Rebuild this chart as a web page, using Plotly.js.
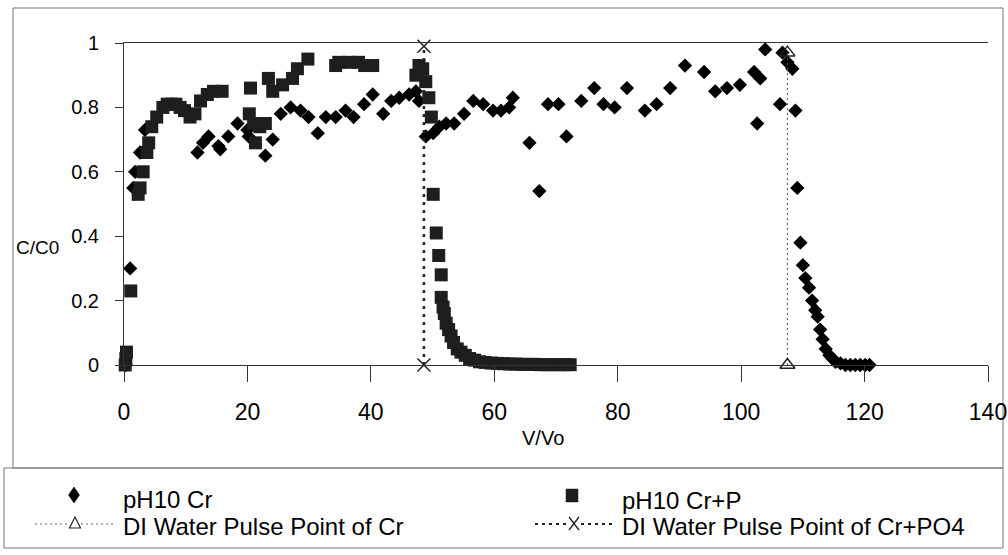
<!DOCTYPE html>
<html>
<head>
<meta charset="utf-8">
<script src="https://cdn.plot.ly/plotly-3.0.1.min.js"></script>
<style>html,body{margin:0;padding:0;background:#fff;}#chart{width:1008px;height:555px;}</style>
</head>
<body>
<div id="chart"></div>
<script>
// pH10 Cr (diamonds)
const crX = [0.3, 1.0, 1.5, 1.8, 2.6, 3.4,
  11.9, 12.8, 13.7, 15.3, 15.6, 16.9, 18.4, 20.0, 20.2, 22.9, 24.1, 25.4, 27.0, 28.6, 29.9,
  31.4, 32.7, 34.3, 35.9, 37.2, 38.9, 40.3, 42.0, 43.3, 44.6, 46.2, 47.3, 47.8, 48.9,
  50.1, 51.1, 52.2, 53.5, 55.1, 56.6, 58.2, 59.8, 61.1, 62.4, 63.0, 65.7, 67.3, 68.7,
  70.4, 71.7, 74.1, 76.2, 77.7, 79.5, 81.5, 84.4, 86.3, 88.5, 90.9, 94.0, 95.8, 97.7,
  99.8, 102.1, 102.6, 103.1, 103.9, 106.3, 106.7, 107.5, 108.3, 108.8, 109.1, 109.6,
  110.0, 110.4, 111.0, 111.5, 112.0, 112.4, 112.8, 113.2, 113.7, 114.3, 114.8, 115.3,
  116.1, 116.9, 117.7, 118.5, 119.3, 120.1, 120.8];
const crY = [0.00, 0.30, 0.55, 0.60, 0.66, 0.73,
  0.66, 0.69, 0.71, 0.68, 0.67, 0.71, 0.75, 0.73, 0.71, 0.65, 0.70, 0.78, 0.80, 0.79, 0.77,
  0.72, 0.77, 0.77, 0.79, 0.77, 0.81, 0.84, 0.78, 0.82, 0.83, 0.84, 0.85, 0.82, 0.71,
  0.72, 0.74, 0.75, 0.75, 0.78, 0.82, 0.81, 0.79, 0.79, 0.80, 0.83, 0.69, 0.54, 0.81,
  0.81, 0.71, 0.82, 0.86, 0.81, 0.80, 0.86, 0.79, 0.81, 0.86, 0.93, 0.91, 0.85, 0.86,
  0.87, 0.91, 0.75, 0.89, 0.98, 0.81, 0.97, 0.94, 0.92, 0.79, 0.55, 0.38,
  0.31, 0.27, 0.24, 0.20, 0.17, 0.15, 0.11, 0.08, 0.05, 0.03, 0.02, 0.01,
  0.005, 0.0, 0.0, 0.0, 0.0, 0.0, 0.0];

// pH10 Cr+P (squares)
const crpX = [0.2, 0.3, 0.4, 1.1, 2.3, 2.6, 3.1, 3.7, 4.0, 4.5, 5.3, 6.3, 7.0, 7.7, 8.4, 9.1,
  9.8, 10.7, 11.5, 12.4, 13.5, 14.5, 15.9, 20.3, 20.5, 21.0, 21.3, 22.0, 22.9, 23.4, 24.1,
  25.7, 27.3, 28.1, 29.8, 34.3, 34.8, 36.5, 38.0, 39.0, 40.3, 47.3, 47.8, 48.4, 48.9,
  49.4, 49.8, 50.1, 50.6, 51.0, 51.4, 51.4, 51.7, 51.9, 52.2, 52.6, 53.0, 53.4, 54.0,
  54.6, 55.3, 56.0, 56.8, 57.6, 58.5, 59.5, 60.5, 61.5, 62.5, 63.5, 64.5, 65.5, 66.5,
  67.5, 68.5, 69.5, 70.5, 71.5, 72.3];
const crpY = [0.00, 0.02, 0.04, 0.23, 0.53, 0.55, 0.60, 0.66, 0.69, 0.74, 0.77, 0.80, 0.81, 0.81, 0.81, 0.80,
  0.79, 0.77, 0.78, 0.82, 0.84, 0.85, 0.85, 0.78, 0.86, 0.75, 0.69, 0.74, 0.75, 0.89, 0.85,
  0.87, 0.89, 0.92, 0.95, 0.93, 0.94, 0.94, 0.94, 0.93, 0.93, 0.90, 0.93, 0.92, 0.88,
  0.83, 0.77, 0.53, 0.41, 0.34, 0.28, 0.21, 0.18, 0.16, 0.13, 0.11, 0.09, 0.07, 0.05,
  0.04, 0.03, 0.02, 0.015, 0.01, 0.008, 0.006, 0.005, 0.004, 0.003, 0.003, 0.002, 0.002, 0.002,
  0.001, 0.001, 0.001, 0.001, 0.001, 0.001];

// DI water pulse points
const pulseCrX = [107.5, 107.5];
const pulseCrY = [0, 0.97];
const pulseCrPX = [48.6, 48.6];
const pulseCrPY = [0, 0.99];

const xTicks = [0, 20, 40, 60, 80, 100, 120, 140];
const yTicks = [0, 0.2, 0.4, 0.6, 0.8, 1];
const yTickText = ['0', '0.2', '0.4', '0.6', '0.8', '1'];
const seriesNames = ['pH10 Cr', 'pH10 Cr+P', 'DI Water Pulse Point of Cr', 'DI Water Pulse Point of Cr+PO4'];

const FONT = 'Liberation Sans, Arial, sans-serif';
const FS = 20;      // y ticks, axis titles
const FSX = 23;     // x tick labels
const FSL = 24;     // legend
const W = 1008, H = 555;
const L = 124, R = 20, T = 43, B = 190;
const pw = W - L - R, ph = H - T - B;
const px = v => (v - L) / pw;          // absolute x pixel -> paper
const py = v => (H - B - v) / ph;      // absolute y pixel -> paper

const traces = [
  {x: crX, y: crY, type: 'scatter', mode: 'markers', name: seriesNames[0],
   marker: {symbol: 'diamond', size: 11, color: '#000'}, cliponaxis: false},
  {x: crpX, y: crpY, type: 'scatter', mode: 'markers', name: seriesNames[1],
   marker: {symbol: 'square', size: 13, color: '#1e1e1e'}, cliponaxis: false},
  {x: pulseCrX, y: pulseCrY, type: 'scatter', mode: 'lines+markers', name: seriesNames[2],
   line: {color: '#555', width: 1, dash: '2px,3px'},
   marker: {symbol: 'triangle-up-open', size: 13, color: '#222', line: {width: 1.5}}, cliponaxis: false},
  {x: pulseCrPX, y: pulseCrPY, type: 'scatter', mode: 'lines+markers', name: seriesNames[3],
   line: {color: '#222', width: 2.5, dash: '3px,5px'},
   marker: {symbol: 'x-thin-open', size: 13, color: '#222', line: {width: 1.5, color: '#222'}}, cliponaxis: false}
];

// manual legend (absolute pixel positions converted to paper)
const legendShapes = [];
const lgLine = (x0, x1, y, w, dash, col) => ({type: 'line', xref: 'paper', yref: 'paper',
  x0: px(x0), x1: px(x1), y0: py(y), y1: py(y), line: {color: col, width: w, dash: dash}});
const lgPath = (pts, fill, col, w) => ({type: 'path', xref: 'paper', yref: 'paper',
  path: 'M' + pts.map(p => px(p[0]) + ',' + py(p[1])).join(' L') + ' Z',
  fillcolor: fill, line: {color: col, width: w}});
// diamond
legendShapes.push(lgPath([[74, 487], [79.5, 495], [74, 503], [68.5, 495]], '#000', '#000', 0.5));
// square
legendShapes.push(lgPath([[566, 489], [578, 489], [578, 502], [566, 502]], '#1e1e1e', '#1e1e1e', 0.5));
// pulse Cr line + triangle
legendShapes.push(lgLine(35, 69, 524, 1, '2px,3px', '#666'));
legendShapes.push(lgLine(81, 115, 524, 1, '2px,3px', '#666'));
legendShapes.push(lgPath([[75, 517], [80.5, 528], [69.5, 528]], 'rgba(0,0,0,0)', '#222', 1.2));
// pulse Cr+PO4 line + x
legendShapes.push(lgLine(535, 567, 524, 2, '3px,4px', '#222'));
legendShapes.push(lgLine(581, 615, 524, 2, '3px,4px', '#222'));
legendShapes.push({type: 'line', xref: 'paper', yref: 'paper', x0: px(569), x1: px(579), y0: py(517), y1: py(530), line: {color: '#222', width: 1.3}});
legendShapes.push({type: 'line', xref: 'paper', yref: 'paper', x0: px(569), x1: px(579), y0: py(530), y1: py(517), line: {color: '#222', width: 1.3}});

const legendText = [
  [seriesNames[0], 121, 499], [seriesNames[1], 620, 500],
  [seriesNames[2], 121, 526], [seriesNames[3], 620, 526]
].map(t => ({text: t[0], xref: 'paper', yref: 'paper', x: px(t[1]), y: py(t[2]),
  xanchor: 'left', yanchor: 'middle', showarrow: false, font: {family: FONT, size: FSL, color: '#000'}}));

const layout = {
  width: W, height: H,
  margin: {l: L, r: R, t: T, b: B},
  paper_bgcolor: '#fff', plot_bgcolor: '#fff',
  font: {family: FONT, size: FS, color: '#000'},
  showlegend: false,
  xaxis: {range: [0, 140], tickvals: xTicks, ticktext: xTicks.map(String),
    showgrid: false, zeroline: false, showline: true, linecolor: '#333', linewidth: 1,
    mirror: true, ticks: 'outside', ticklen: 16, tickcolor: '#333', ticklabelstandoff: 10,
    tickfont: {family: FONT, size: FSX}, automargin: false},
  yaxis: {range: [0, 1], tickvals: yTicks, ticktext: yTickText,
    showgrid: false, zeroline: false, showline: true, linecolor: '#333', linewidth: 1,
    ticks: 'outside', ticklen: 8, tickcolor: '#333', ticklabelstandoff: 12,
    tickfont: {family: FONT, size: FS}, automargin: false},
  annotations: [
    {text: 'C/C0', xref: 'paper', yref: 'paper', x: px(14), y: py(247), xanchor: 'left', yanchor: 'middle',
     showarrow: false, font: {family: FONT, size: 19}},
    {text: 'V/Vo', xref: 'paper', yref: 'paper', x: px(543), y: py(438), xanchor: 'center', yanchor: 'middle',
     showarrow: false, font: {family: FONT, size: FS}}
  ].concat(legendText),
  shapes: [
    {type: 'rect', xref: 'paper', yref: 'paper', x0: px(13), x1: px(1003), y0: py(8), y1: py(468),
     line: {color: '#777', width: 1}, layer: 'below'},
    {type: 'rect', xref: 'paper', yref: 'paper', x0: px(4), x1: px(1003), y0: py(468), y1: py(548),
     line: {color: '#777', width: 1}, layer: 'below'}
  ].concat(legendShapes)
};

Plotly.newPlot('chart', traces, layout, {displayModeBar: false, staticPlot: true});
</script>
</body>
</html>
